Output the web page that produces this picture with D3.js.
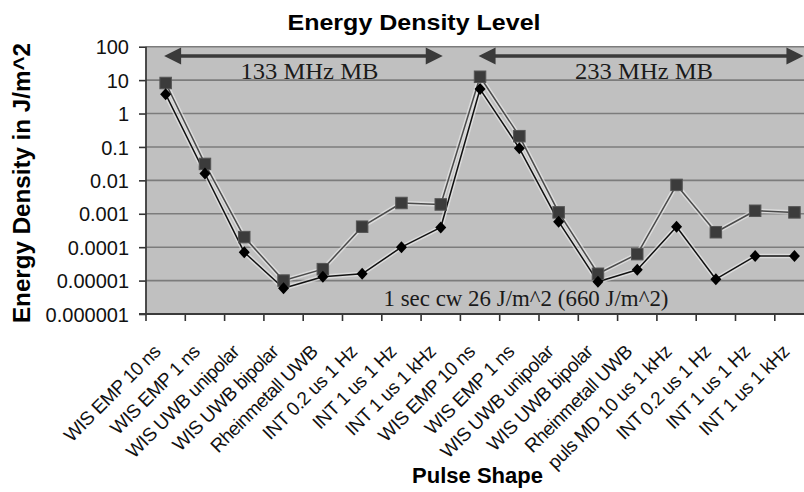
<!DOCTYPE html>
<html>
<head>
<meta charset="utf-8">
<script src="https://cdn.jsdelivr.net/npm/d3@7"></script>
<style>
  html, body { margin: 0; padding: 0; background: #fff; overflow: hidden; }
  svg { display: block; }
</style>
</head>
<body>
<svg id="chart" width="804" height="492"></svg>
<script>
// Pulse shapes along the x axis (two test campaigns: 133 MHz and 233 MHz mainboards)
const categories = [
  "WIS EMP 10 ns", "WIS EMP 1 ns", "WIS UWB unipolar", "WIS UWB bipolar",
  "Rheinmetall UWB", "INT 0.2 us 1 Hz", "INT 1 us 1 Hz", "INT 1 us 1 kHz",
  "WIS EMP 10 ns", "WIS EMP 1 ns", "WIS UWB unipolar", "WIS UWB bipolar",
  "Rheinmetall UWB", "puls MD 10 us 1 kHz", "INT 0.2 us 1 Hz", "INT 1 us 1 Hz",
  "INT 1 us 1 kHz"
];

// Energy density in J/m^2 (square markers, upper curve)
const squareSeries = [
  8.2, 0.031, 0.0002, 0.00001, 0.000022, 0.00041, 0.0021, 0.0019,
  12.6, 0.21, 0.0011, 0.000016, 0.000062, 0.0073, 0.00028, 0.00123, 0.0011
];

// Energy density in J/m^2 (diamond markers, lower curve)
const diamondSeries = [
  3.8, 0.016, 0.00007, 0.0000059, 0.000013, 0.000016, 0.0001, 0.00039,
  5.4, 0.091, 0.00058, 0.0000092, 0.000021, 0.00041, 0.000011, 0.000054, 0.000054
];

const yTicks = [100, 10, 1, 0.1, 0.01, 0.001, 0.0001, 0.00001, 0.000001];
const yTickLabels = ["100", "10", "1", "0.1", "0.01", "0.001", "0.0001", "0.00001", "0.000001"];

// Range annotations: [first category, last category, label]
const rangeNotes = [
  [0, 7, "133 MHz MB"],
  [8, 16, "233 MHz MB"]
];
const cwNote = "1 sec cw 26 J/m^2 (660 J/m^2)";

const svg = d3.select("#chart");
const sans = "'Liberation Sans', Arial, Helvetica, sans-serif";
const serif = "'Liberation Serif', 'Times New Roman', serif";

const plotLeft = 146, plotTop = 46.7, plotBottom = 314, step = 39.3;
const plotRight = plotLeft + categories.length * step;

const x = d3.scaleBand().domain(d3.range(categories.length)).range([plotLeft, plotRight]).padding(0);
const cx = i => x(i) + x.bandwidth() / 2;
const y = d3.scaleLog().domain([1e-6, 100]).range([plotBottom, plotTop]);

// Plot background
svg.append("rect")
  .attr("x", plotLeft).attr("y", plotTop)
  .attr("width", plotRight - plotLeft).attr("height", plotBottom - plotTop)
  .attr("fill", "#c0c0c0");

// Horizontal gridlines
svg.append("g").selectAll("line").data(yTicks).join("line")
  .attr("x1", plotLeft).attr("x2", plotRight)
  .attr("y1", d => y(d)).attr("y2", d => y(d))
  .attr("stroke", "#7c7c7c").attr("stroke-width", 1.6);

// Y axis
const yAxis = svg.append("g")
  .attr("transform", `translate(${plotLeft},0)`)
  .call(d3.axisLeft(y).tickValues(yTicks)
    .tickFormat((d, i) => yTickLabels[i]).tickSize(7).tickPadding(10));
yAxis.select(".domain").remove();
yAxis.selectAll(".tick line").attr("stroke", "#333").attr("stroke-width", 1.6);
yAxis.selectAll(".tick text")
  .attr("font-family", sans).attr("font-size", 20).attr("fill", "#111").attr("dy", "0.36em");

// X axis with rotated category labels
const xAxis = svg.append("g")
  .attr("transform", `translate(0,${plotBottom})`)
  .call(d3.axisBottom(x).tickSize(0).tickFormat(i => categories[i]));
xAxis.select(".domain").remove();
xAxis.selectAll(".tick text")
  .attr("font-family", sans).attr("font-size", 19).attr("fill", "#111")
  .attr("letter-spacing", -0.5)
  .attr("x", 0).attr("y", 0).attr("dy", 0)
  .attr("text-anchor", "end")
  .attr("transform", "translate(-4,39) rotate(-45)");

// Category boundary ticks on the x axis
svg.append("g").selectAll("line").data(d3.range(categories.length + 1)).join("line")
  .attr("x1", i => plotLeft + i * x.step()).attr("x2", i => plotLeft + i * x.step())
  .attr("y1", plotBottom).attr("y2", plotBottom + 7)
  .attr("stroke", "#333").attr("stroke-width", 1.6);

// Axis lines
svg.append("line").attr("x1", plotLeft).attr("x2", plotLeft).attr("y1", plotTop).attr("y2", plotBottom + 0.8)
  .attr("stroke", "#3a3a3a").attr("stroke-width", 1.8);
svg.append("line").attr("x1", plotLeft - 7).attr("x2", plotRight).attr("y1", plotBottom).attr("y2", plotBottom)
  .attr("stroke", "#3a3a3a").attr("stroke-width", 1.8);

// Range arrows with labels
const arrowY = 56;
const headL = 17, headH = 8.5;
const arrows = svg.append("g");
rangeNotes.forEach(([a, b, label], k) => {
  const x0 = cx(a) - 1.5;
  const x1 = k === 0 ? cx(b) + 2 : cx(b) + 9;
  arrows.append("line")
    .attr("x1", x0 + headL - 2).attr("x2", x1 - headL + 2)
    .attr("y1", arrowY).attr("y2", arrowY)
    .attr("stroke", "#3a3a3a").attr("stroke-width", 3.5);
  arrows.append("path")
    .attr("d", `M${x0},${arrowY} L${x0 + headL},${arrowY - headH} L${x0 + headL},${arrowY + headH} Z`)
    .attr("fill", "#3a3a3a");
  arrows.append("path")
    .attr("d", `M${x1},${arrowY} L${x1 - headL},${arrowY - headH} L${x1 - headL},${arrowY + headH} Z`)
    .attr("fill", "#3a3a3a");
  const tx = (x0 + x1) / 2 + (k === 0 ? 6 : 3);
  arrows.append("text")
    .attr("x", tx).attr("y", 78.5)
    .attr("text-anchor", "middle")
    .attr("font-family", serif).attr("font-size", 23.5)
    .attr("textLength", 138).attr("lengthAdjust", "spacingAndGlyphs")
    .attr("fill", "#1a1a1a")
    .text(label);
});

// Continuous-wave reference note
svg.append("text")
  .attr("x", 383.5).attr("y", 305.5)
  .attr("font-family", serif).attr("font-size", 23.5)
  .attr("textLength", 285).attr("lengthAdjust", "spacingAndGlyphs")
  .attr("fill", "#1a1a1a")
  .text(cwNote);

// Series lines (light halo under each line, then the line itself)
const line = d3.line().x((d, i) => cx(i)).y(d => y(d));
const seriesDefs = [
  { values: squareSeries, color: "#4a4a4a" },
  { values: diamondSeries, color: "#111" }
];
seriesDefs.forEach(s => {
  svg.append("path").datum(s.values).attr("d", line)
    .attr("fill", "none").attr("stroke", "#f2f2f2").attr("stroke-opacity", 0.55)
    .attr("stroke-width", 4.5).attr("stroke-linejoin", "round");
});
seriesDefs.forEach(s => {
  svg.append("path").datum(s.values).attr("d", line)
    .attr("fill", "none").attr("stroke", s.color)
    .attr("stroke-width", 1.5).attr("stroke-linejoin", "round");
});

// Square markers
svg.append("g").selectAll("rect").data(squareSeries).join("rect")
  .attr("x", (d, i) => cx(i) - 5.75).attr("y", d => y(d) - 5.75)
  .attr("width", 11.5).attr("height", 11.5)
  .attr("fill", "#3b3b3b").attr("stroke", "#555").attr("stroke-width", 1);

// Diamond markers
svg.append("g").selectAll("path").data(diamondSeries).join("path")
  .attr("transform", (d, i) => `translate(${cx(i)},${y(d)})`)
  .attr("d", "M0,-6 L5.5,0 L0,6 L-5.5,0 Z")
  .attr("fill", "#000");

// Titles
svg.append("text")
  .attr("x", 414).attr("y", 29.5).attr("text-anchor", "middle")
  .attr("font-family", sans).attr("font-weight", "bold").attr("font-size", 21.5)
  .attr("textLength", 253).attr("lengthAdjust", "spacingAndGlyphs")
  .attr("fill", "#000")
  .text("Energy Density Level");

svg.append("text")
  .attr("transform", "translate(30,183) rotate(-90)")
  .attr("text-anchor", "middle")
  .attr("font-family", sans).attr("font-weight", "bold").attr("font-size", 23)
  .attr("textLength", 280).attr("lengthAdjust", "spacingAndGlyphs")
  .attr("fill", "#000")
  .text("Energy Density in J/m^2");

svg.append("text")
  .attr("x", 477.5).attr("y", 483).attr("text-anchor", "middle")
  .attr("font-family", sans).attr("font-weight", "bold").attr("font-size", 22)
  .attr("textLength", 131).attr("lengthAdjust", "spacingAndGlyphs")
  .attr("fill", "#000")
  .text("Pulse Shape");
</script>
</body>
</html>
